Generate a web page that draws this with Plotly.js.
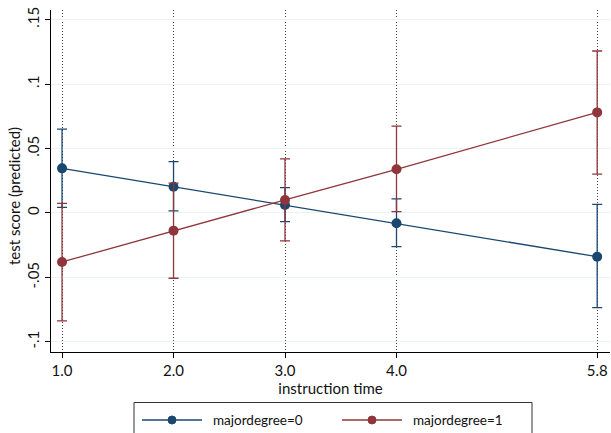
<!DOCTYPE html>
<html>
<head>
<meta charset="utf-8">
<script src="https://cdn.plot.ly/plotly-3.0.1.min.js"></script>
<style>html,body{margin:0;padding:0;background:#fff}#chart{width:611px;height:433px}</style>
</head>
<body>
<div id="chart"></div>
<script>
var xTime = [1, 2, 3, 4, 5.8];
var xTickText = ["1.0", "2.0", "3.0", "4.0", "5.8"];
var yTickVals = [-0.1, -0.05, 0, 0.05, 0.1, 0.15];
var yTickText = ["-.1", "-.05", "0", ".05", ".1", ".15"];
var seriesNames = ["majordegree=0", "majordegree=1"];

var deg0 = [0.0346, 0.0204, 0.0062, -0.0080, -0.0339];
var deg0Upper = [0.0651, 0.0398, 0.0196, 0.0109, 0.0067];
var deg0Lower = [0.0044, 0.0016, -0.0067, -0.0261, -0.0734];

var deg1 = [-0.0380, -0.0137, 0.0101, 0.0339, 0.0780];
var deg1Upper = [0.0075, 0.0232, 0.0419, 0.0674, 0.1256];
var deg1Lower = [-0.0837, -0.0506, -0.0217, 0.0010, 0.0302];

function plus(v, u) { return u.map(function (a, i) { return a - v[i]; }); }
function minus(v, l) { return l.map(function (a, i) { return v[i] - a; }); }

var blue = "#1a476f", red = "#90353b";
var fontFam = "Lato, 'Noto Sans', sans-serif";

var traces = [
  {
    x: xTime, y: deg0, name: seriesNames[0], type: "scatter", mode: "lines+markers",
    line: {color: blue, width: 1.3}, marker: {color: blue, size: 10},
    error_y: {type: "data", symmetric: false, array: plus(deg0, deg0Upper), arrayminus: minus(deg0, deg0Lower),
      color: blue, thickness: 1.3, width: 5}
  },
  {
    x: xTime, y: deg1, name: seriesNames[1], type: "scatter", mode: "lines+markers",
    line: {color: red, width: 1.3}, marker: {color: red, size: 10},
    error_y: {type: "data", symmetric: false, array: plus(deg1, deg1Upper), arrayminus: minus(deg1, deg1Lower),
      color: red, thickness: 1.3, width: 5}
  }
];

// layout geometry (pixels) for manual legend
var ML = 51, MT = 10, PW = 559, PH = 342;
function px(x) { return (x - ML) / PW; }
function py(y) { return (MT + PH - y) / PH; }

var shapes = [
  {type: "rect", xref: "paper", yref: "paper", x0: px(134), x1: px(532), y0: py(402.5), y1: py(445),
    line: {color: "#333", width: 1}, fillcolor: "rgba(0,0,0,0)"},
  {type: "line", xref: "paper", yref: "paper", x0: px(142), x1: px(202), y0: py(420), y1: py(420),
    line: {color: blue, width: 1.3}},
  {type: "line", xref: "paper", yref: "paper", x0: px(342), x1: px(402), y0: py(420), y1: py(420),
    line: {color: red, width: 1.3}},
  {type: "circle", xref: "paper", yref: "paper", x0: px(168), x1: px(176), y0: py(416), y1: py(424),
    line: {color: blue, width: 1}, fillcolor: blue},
  {type: "circle", xref: "paper", yref: "paper", x0: px(368), x1: px(376), y0: py(416), y1: py(424),
    line: {color: red, width: 1}, fillcolor: red}
];

var annotations = [
  {text: seriesNames[0], xref: "paper", yref: "paper", x: px(211), y: py(420), xanchor: "left", yanchor: "middle",
    showarrow: false, font: {size: 13.5, color: "#111"}},
  {text: seriesNames[1], xref: "paper", yref: "paper", x: px(411), y: py(420), xanchor: "left", yanchor: "middle",
    showarrow: false, font: {size: 13.5, color: "#111"}},
  {text: "test score (predicted)", xref: "paper", yref: "paper", x: px(14), y: py(196), xanchor: "center", yanchor: "middle",
    textangle: -90, showarrow: false, font: {size: 15, color: "#111"}}
];

var layout = {
  width: 611, height: 433,
  margin: {l: ML, r: 1, t: MT, b: 81},
  paper_bgcolor: "#fff", plot_bgcolor: "#fff",
  font: {family: fontFam, size: 15, color: "#111"},
  showlegend: false,
  shapes: shapes,
  annotations: annotations,
  xaxis: {
    range: [0.901, 5.915], tickmode: "array", tickvals: xTime, ticktext: xTickText,
    showgrid: true, gridcolor: "#444", griddash: "1px,2px", gridwidth: 1,
    zeroline: false, showline: true, linecolor: "#000", linewidth: 1,
    ticks: "outside", ticklen: 5, tickcolor: "#000", tickfont: {size: 15},
    title: {text: "instruction time", font: {size: 15}, standoff: 3}
  },
  yaxis: {
    range: [-0.1078, 0.1574], tickmode: "array", tickvals: yTickVals, ticktext: yTickText,
    tickangle: -90, showgrid: true, gridcolor: "#eaf2f3", gridwidth: 1,
    zeroline: false, showline: true, linecolor: "#000", linewidth: 1,
    ticks: "outside", ticklen: 5, tickcolor: "#000", tickfont: {size: 15}
  }
};

Plotly.newPlot("chart", traces, layout, {staticPlot: true, displayModeBar: false});
</script>
</body>
</html>
